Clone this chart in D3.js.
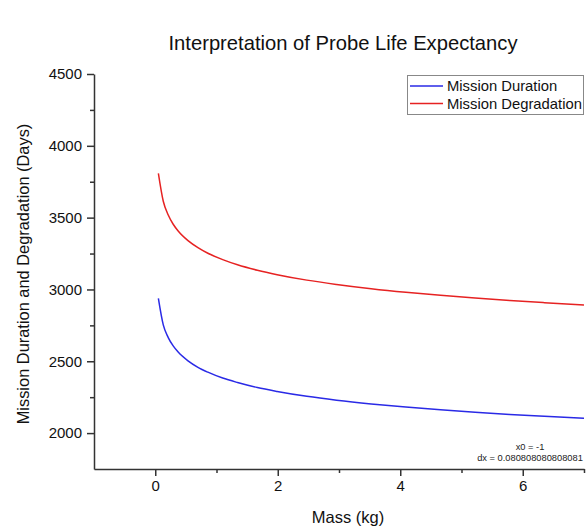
<!DOCTYPE html>
<html>
<head>
<meta charset="utf-8">
<script src="https://cdn.jsdelivr.net/npm/d3@7"></script>
<style>
  html, body { margin: 0; padding: 0; background: #fff; }
  svg { display: block; font-family: "Liberation Sans", Arial, sans-serif; }
</style>
</head>
<body>
<svg id="chart" width="586" height="527"></svg>
<script>
// ---- data ----
const massKg = [0.051, 0.131, 0.212, 0.293, 0.374, 0.535, 0.697, 0.859, 1.101, 1.343, 1.667, 1.990, 2.475, 2.960, 3.525, 4.091, 4.657, 5.222, 5.788, 6.354, 7.000];
const missionDuration = [2938, 2753, 2665, 2607, 2564, 2503, 2458, 2424, 2383, 2352, 2317, 2290, 2256, 2229, 2203, 2181, 2162, 2145, 2130, 2117, 2103];
const missionDegradation = [3808, 3614, 3518, 3454, 3407, 3340, 3291, 3252, 3208, 3172, 3134, 3103, 3065, 3035, 3005, 2980, 2959, 2940, 2923, 2908, 2892];
const seriesNames = ["Mission Duration", "Mission Degradation"];
const xMajorTicks = [0, 2, 4, 6];
const xMinorTicks = [1, 3, 5, 7];
const yMajorTicks = [2000, 2500, 3000, 3500, 4000, 4500];
const yMinorTicks = [2250, 2750, 3250, 3750, 4250];
const titleText = "Interpretation of Probe Life Expectancy";
const xLabel = "Mass (kg)";
const yLabel = "Mission Duration and Degradation (Days)";
const noteLines = ["x0 = -1", "dx = 0.080808080808081"];

// ---- drawing ----
const svg = d3.select("#chart");
const colors = ["#2a2ae6", "#e62222"];
const axisColor = "#333";

const x = d3.scaleLinear().domain([-1, 7]).range([94, 584]);
const y = d3.scaleLinear().domain([1750, 4500]).range([469, 74]);

// title
svg.append("text").attr("x", 343).attr("y", 50).attr("text-anchor", "middle")
  .attr("font-size", 20.2).attr("fill", "#111").text(titleText);

// series
const seriesData = [missionDuration, missionDegradation];
const line = d3.line().x(d => x(d[0])).y(d => y(d[1])).curve(d3.curveMonotoneX);
seriesData.forEach((vals, i) => {
  svg.append("path")
    .datum(massKg.map((m, j) => [m, vals[j]]))
    .attr("fill", "none").attr("stroke", colors[i]).attr("stroke-width", 1.5)
    .attr("d", line);
});

function styleAxis(g) {
  g.select(".domain").attr("stroke", axisColor).attr("stroke-width", 1.5);
  g.selectAll(".tick line").attr("stroke", axisColor).attr("stroke-width", 1.5);
  g.selectAll(".tick text").attr("fill", "#111").attr("font-size", 15)
    .attr("font-family", "Liberation Sans, Arial, sans-serif");
}

// x axis
const gx = svg.append("g").attr("transform", "translate(0,469)")
  .call(d3.axisBottom(x).tickValues(xMajorTicks).tickSize(7).tickPadding(4).tickSizeOuter(0).tickFormat(d3.format("d")));
styleAxis(gx);
const gxm = svg.append("g").attr("transform", "translate(0,469)")
  .call(d3.axisBottom(x).tickValues(xMinorTicks).tickSize(4).tickFormat("").tickSizeOuter(0));
styleAxis(gxm);
gxm.select(".domain").remove();

// y axis
const gy = svg.append("g").attr("transform", "translate(94,0)")
  .call(d3.axisLeft(y).tickValues(yMajorTicks).tickSize(7).tickPadding(5).tickSizeOuter(0).tickFormat(d3.format("d")));
styleAxis(gy);
const gym = svg.append("g").attr("transform", "translate(94,0)")
  .call(d3.axisLeft(y).tickValues(yMinorTicks).tickSize(4).tickFormat("").tickSizeOuter(0));
styleAxis(gym);
gym.select(".domain").remove();

// axis labels
svg.append("text").attr("x", 348).attr("y", 523).attr("text-anchor", "middle")
  .attr("font-size", 16.5).attr("fill", "#111").text(xLabel);
svg.append("text").attr("transform", "translate(29,274) rotate(-90)").attr("text-anchor", "middle")
  .attr("font-size", 16.4).attr("fill", "#111").text(yLabel);

// legend
const lg = svg.append("g");
lg.append("rect").attr("x", 407.5).attr("y", 75.5).attr("width", 176).attr("height", 39)
  .attr("fill", "#fff").attr("stroke", "#888").attr("stroke-width", 1);
seriesNames.forEach((name, i) => {
  const ly = 86 + i * 17.5;
  lg.append("line").attr("x1", 410).attr("x2", 443).attr("y1", ly).attr("y2", ly)
    .attr("stroke", colors[i]).attr("stroke-width", 1.5);
  lg.append("text").attr("x", 447).attr("y", ly + 5.2).attr("font-size", 14.8)
    .attr("fill", "#111").text(name);
});

// note
noteLines.forEach((t, i) => {
  svg.append("text").attr("x", 530).attr("y", 450 + i * 11).attr("text-anchor", "middle")
    .attr("font-size", 9.3).attr("fill", "#222").text(t);
});
</script>
</body>
</html>
